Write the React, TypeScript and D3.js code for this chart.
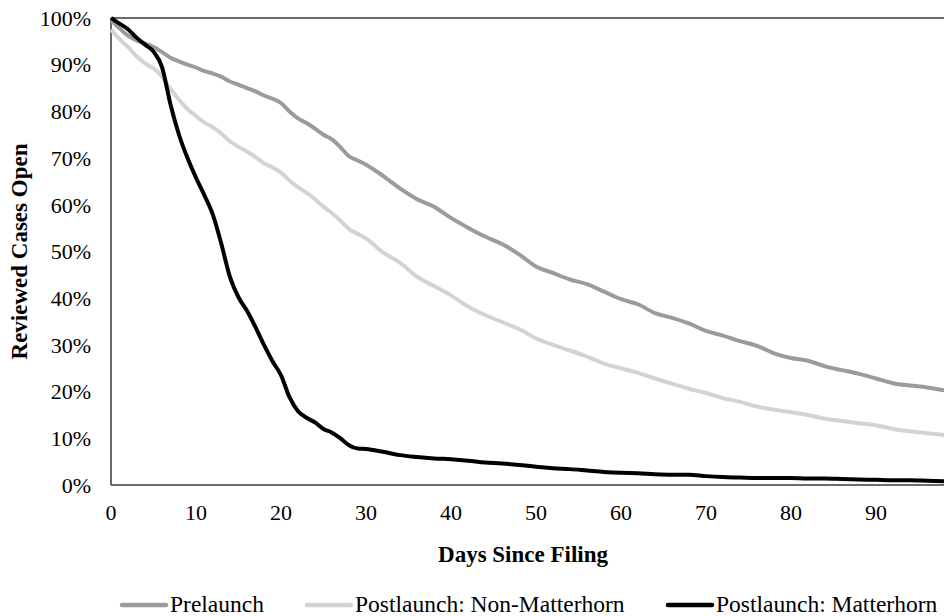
import React from 'react';
import * as d3 from 'd3';

// days since filing at which the curves were read
const days: number[] = [
  0, 1, 2, 3, 4, 5, 6, 7, 8, 9, 10, 11, 12, 13, 14, 15, 16, 17, 18, 19,
  20, 21, 22, 23, 24, 25, 26, 27, 28, 29, 30, 32, 34, 36, 38, 40, 42, 44, 46, 48,
  50, 52, 54, 56, 58, 60, 62, 64, 66, 68, 70, 72, 74, 76, 78, 80, 82, 84, 86, 88,
  90, 92, 94, 96, 98, 100,
];

// share of reviewed cases still open (%)
const prelaunch: number[] = [
  99.5, 97.8, 96.2, 95.2, 94.5, 93.8, 92.7, 91.5, 90.7, 90.0, 89.4, 88.6, 88.1, 87.4, 86.4, 85.7, 85.0, 84.3, 83.4, 82.7,
  81.8, 80.0, 78.5, 77.5, 76.3, 75.0, 74.0, 72.3, 70.4, 69.5, 68.6, 66.2, 63.5, 61.2, 59.6, 57.2, 55.1, 53.2, 51.6, 49.4,
  46.8, 45.4, 44.0, 43.0, 41.4, 39.8, 38.7, 36.8, 35.8, 34.6, 33.0, 32.0, 30.8, 29.8, 28.2, 27.2, 26.6, 25.4, 24.6, 23.8,
  22.8, 21.8, 21.3, 20.9, 20.3, 19.8,
];

const nonMatterhorn: number[] = [
  97.5, 95.5, 93.8, 91.8, 90.3, 89.2, 87.5, 84.8, 82.5, 80.5, 79.0, 77.6, 76.6, 75.2, 73.6, 72.4, 71.4, 70.2, 68.9, 68.0,
  66.9, 65.2, 63.8, 62.6, 61.2, 59.6, 58.2, 56.6, 54.8, 53.8, 52.8, 49.8, 47.6, 44.6, 42.6, 40.6, 38.2, 36.4, 34.9, 33.4,
  31.4, 30.0, 28.8, 27.5, 26.0, 25.0, 24.0, 22.8, 21.7, 20.6, 19.7, 18.6, 17.8, 16.8, 16.1, 15.6, 15.0, 14.2, 13.7, 13.2,
  12.8, 12.0, 11.5, 11.1, 10.7, 10.3,
];

const matterhorn: number[] = [
  100, 98.8, 97.6, 95.8, 94.3, 92.8, 89.5, 81.5, 75.0, 70.0, 65.8, 62.0, 57.8, 51.5, 44.5, 40.2, 37.3, 33.8, 30.0, 26.5,
  23.5, 18.8, 15.8, 14.4, 13.4, 12.0, 11.2, 10.0, 8.5, 7.8, 7.7, 7.1, 6.4, 6.0, 5.7, 5.5, 5.2, 4.8, 4.6, 4.3,
  3.9, 3.6, 3.4, 3.1, 2.8, 2.6, 2.5, 2.3, 2.2, 2.2, 1.9, 1.7, 1.6, 1.5, 1.5, 1.5, 1.4, 1.4, 1.3, 1.2,
  1.1, 1.0, 1.0, 0.9, 0.8, 0.7,
];

const seriesNames: string[] = ['Prelaunch', 'Postlaunch: Non-Matterhorn', 'Postlaunch: Matterhorn'];
const seriesColors: string[] = ['#9b9b9b', '#d3d3d3', '#000000'];

const xTicks: number[] = [0, 10, 20, 30, 40, 50, 60, 70, 80, 90];
const yTicks: number[] = [0, 10, 20, 30, 40, 50, 60, 70, 80, 90, 100];

const width = 944;
const height = 616;
const margin = { top: 18, left: 111, bottom: 131 };
const font = '"Liberation Serif", "Times New Roman", serif';

export default function App() {
  const x = d3.scaleLinear().domain([0, 100]).range([margin.left, margin.left + 850]);
  const y = d3.scaleLinear().domain([0, 100]).range([height - margin.bottom, margin.top]);

  const line = d3.line<[number, number]>()
    .x(d => x(d[0]))
    .y(d => y(d[1]))
    .curve(d3.curveMonotoneX);

  const series = [prelaunch, nonMatterhorn, matterhorn];
  const legendX = [122, 307, 668];
  const y0 = y(0);
  const y100 = y(100);

  return (
    <svg width={width} height={height} style={{ position: 'absolute', left: 0, top: 0, background: '#fff' }}
      fontFamily={font}>
      {/* plot frame */}
      <line x1={margin.left} x2={width} y1={y100} y2={y100} stroke="#3a3a3a" strokeWidth={1.5} />
      <line x1={margin.left} x2={width} y1={y0} y2={y0} stroke="#3a3a3a" strokeWidth={1.5} />
      <line x1={margin.left} x2={margin.left} y1={y100} y2={y0} stroke="#3a3a3a" strokeWidth={1.5} />

      {series.map((vals, i) => (
        <path key={seriesNames[i]}
          d={line(days.map((d, j) => [d, vals[j]] as [number, number])) || ''}
          fill="none" stroke={seriesColors[i]} strokeWidth={4} strokeLinejoin="round" />
      ))}

      {yTicks.map(t => (
        <text key={t} x={91} y={y(t)} dy="0.35em" textAnchor="end" fontSize={22} fill="#000">{t}%</text>
      ))}
      {xTicks.map(t => (
        <text key={t} x={x(t)} y={520} textAnchor="middle" fontSize={22} fill="#000">{t}</text>
      ))}

      <text x={523} y={562} textAnchor="middle" fontSize={23} fontWeight="bold">Days Since Filing</text>
      <text transform={`translate(27,${(y0 + y100) / 2}) rotate(-90)`} textAnchor="middle" fontSize={23}
        fontWeight="bold">Reviewed Cases Open</text>

      {seriesNames.map((name, i) => (
        <g key={name}>
          <line x1={legendX[i]} x2={legendX[i] + 44} y1={605} y2={605} stroke={seriesColors[i]} strokeWidth={4.5}
            strokeLinecap="round" />
          <text x={legendX[i] + 48} y={612} fontSize={23.5}>{name}</text>
        </g>
      ))}
    </svg>
  );
}
